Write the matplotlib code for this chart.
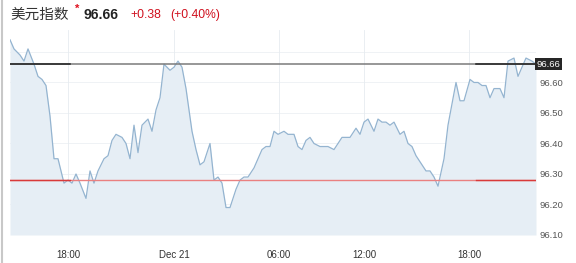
import matplotlib
matplotlib.use("Agg")
import matplotlib.pyplot as plt
from matplotlib.lines import Line2D

# -----------------------------
# Data (bar index, price)
# -----------------------------
bar_idx = [0, 2, 5, 7, 9, 12, 14, 16, 18, 20, 22, 24, 27, 29, 31, 33, 35, 38, 40, 42,
           44, 47, 49, 51, 53, 56, 58, 60, 62, 64, 66, 69, 71, 73, 75, 77, 80, 82, 84, 86,
           88, 91, 93, 95, 97, 100, 102, 104, 106, 108, 110, 113, 115, 117, 119, 122, 124, 126, 128, 130,
           132, 134, 137, 139, 142, 144, 146, 148, 150, 152, 155, 157, 159, 162, 166, 170, 173, 175, 177, 179,
           182, 184, 186, 188, 190, 192, 195, 197, 199, 201, 203, 206, 208, 210, 212, 214, 217, 219, 223, 225,
           227, 230, 232, 234, 236, 238, 240, 242, 245, 247, 249, 252, 254, 256, 258, 261, 263]
price = [96.74, 96.71, 96.69, 96.67, 96.71, 96.66, 96.62, 96.61, 96.59, 96.49, 96.35, 96.35, 96.27, 96.28, 96.27, 96.30, 96.27, 96.22, 96.31, 96.27,
         96.31, 96.35, 96.36, 96.41, 96.43, 96.42, 96.40, 96.35, 96.46, 96.37, 96.46, 96.48, 96.44, 96.51, 96.55, 96.66, 96.64, 96.65, 96.67, 96.65,
         96.58, 96.44, 96.38, 96.33, 96.34, 96.40, 96.28, 96.29, 96.27, 96.19, 96.19, 96.25, 96.28, 96.29, 96.29, 96.32, 96.35, 96.38, 96.39, 96.39,
         96.44, 96.43, 96.44, 96.43, 96.43, 96.39, 96.38, 96.41, 96.42, 96.40, 96.39, 96.39, 96.39, 96.38, 96.42, 96.42, 96.45, 96.43, 96.47, 96.48,
         96.44, 96.48, 96.47, 96.47, 96.46, 96.47, 96.43, 96.44, 96.40, 96.39, 96.36, 96.33, 96.31, 96.31, 96.29, 96.26, 96.35, 96.46, 96.60, 96.54,
         96.54, 96.61, 96.60, 96.60, 96.59, 96.59, 96.55, 96.58, 96.58, 96.55, 96.67, 96.68, 96.62, 96.65, 96.68, 96.67, 96.66]

last_price = 96.66
prev_close = 96.28
change = 0.38
change_pct = 0.40

tick_pos = [29, 82, 134.5, 177, 229.5]
tick_labels = ["18:00", "Dec 21", "06:00", "12:00", "18:00"]
y_ticks = [96.10, 96.20, 96.30, 96.40, 96.50, 96.60]

# -----------------------------
# Figure
# -----------------------------
fig = plt.figure(figsize=(5.76, 2.63), dpi=100)
fig.patch.set_facecolor("white")
ax = fig.add_axes([10 / 576, 28 / 263, 526 / 576, 205 / 263])
ax.set_facecolor("white")

ax.set_xlim(0, 263)
ax.set_ylim(96.10, 96.772)

# faint grid
for y in y_ticks + [96.70]:
    ax.axhline(y, color="#edf0f4", lw=0.6, zorder=0)
for x in tick_pos:
    ax.axvline(x, color="#e6ebf0", lw=0.6, zorder=0)

ax.fill_between(bar_idx, price, 96.10, color="#e6eef5", lw=0, zorder=1)
ax.plot(bar_idx, price, color="#94b4d0", lw=0.9, zorder=3)

# reference lines: lighter in the middle, darker at the ends
ax.axhline(last_price, color="#7a7a7a", lw=1.1, zorder=4)
ax.axhline(prev_close, color="#ea8080", lw=1.0, zorder=4)
for x0, x1 in [(0, 0.115), (0.885, 1)]:
    ax.axhline(last_price, xmin=x0, xmax=x1, color="#222222", lw=1.1, zorder=5)
    ax.axhline(prev_close, xmin=x0, xmax=x1, color="#d93a3a", lw=1.0, zorder=5)

for s in ax.spines.values():
    s.set_visible(False)

ax.set_xticks(tick_pos)
ax.set_xticklabels(tick_labels, fontsize=7, color="#333333", family="Liberation Sans")
ax.set_yticks(y_ticks)
ax.set_yticklabels([f"{v:.2f}" for v in y_ticks], fontsize=6.8, color="#555555",
                   family="Liberation Sans")
ax.yaxis.tick_right()
ax.tick_params(axis="both", length=0)
ax.tick_params(axis="x", pad=11)
ax.tick_params(axis="y", pad=2.5)

# last price label box
ax.text(263.3, last_price, f"{last_price:.2f}", transform=ax.transData,
        fontsize=6.8, color="white", family="Liberation Sans", va="center", ha="left",
        bbox=dict(boxstyle="square,pad=0.15", fc="#262626", ec="none"), zorder=6,
        clip_on=False)

# header
fig.text(10 / 576, 1 - 15 / 263, "美元指数", fontsize=10.5, color="#333333",
         family=["Noto Sans CJK SC", "DejaVu Sans"], va="center", ha="left")
fig.text(75 / 576, 1 - 9 / 263, "*", fontsize=8, color="#e0101e",
         family="Liberation Sans", va="center", ha="left", weight="bold")
fig.text(84 / 576, 1 - 15 / 263, f"{last_price:.2f}", fontsize=10, color="#222222",
         family="Liberation Sans", va="center", ha="left", weight="bold")
fig.text(130 / 576, 1 - 15 / 263, f"+{change:.2f}", fontsize=8.7, color="#d0101e",
         family="Liberation Sans", va="center", ha="left")
fig.text(170 / 576, 1 - 15 / 263, f"(+{change_pct:.2f}%)", fontsize=8.7, color="#d0101e",
         family="Liberation Sans", va="center", ha="left")

# page border on the left
fig.add_artist(Line2D([1.5 / 576, 1.5 / 576], [0, 1], transform=fig.transFigure,
                      color="#c8c8c8", lw=1.5))

fig.savefig("out.png", dpi=100, facecolor="white")
